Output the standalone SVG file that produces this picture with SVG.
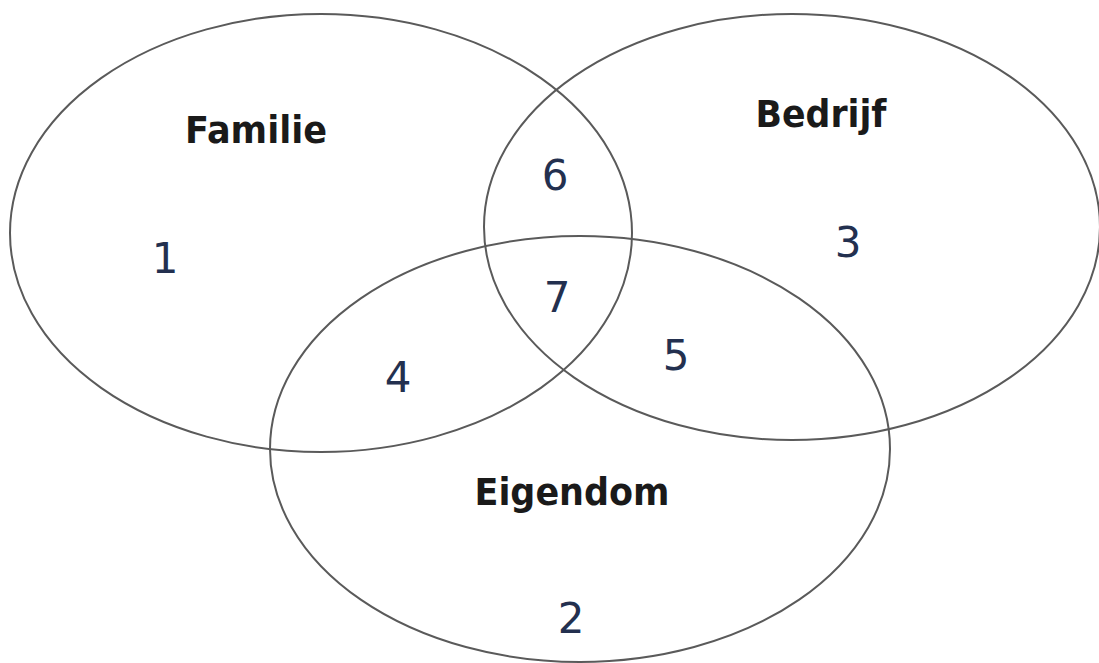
<svg xmlns="http://www.w3.org/2000/svg" width="1099" height="663" viewBox="0 0 1099 663">
<style>
.set{fill:none;stroke:#5a5a5a;stroke-width:2}
.lbl{font-family:"DejaVu Sans",sans-serif;font-weight:bold;font-size:37px;fill:#1a1a1a;text-anchor:middle}
.num{font-family:"DejaVu Sans",sans-serif;font-size:42px;fill:#23304f;text-anchor:middle}
</style>
<rect width="1099" height="663" fill="#ffffff"/>
<g id="familie">
<ellipse class="set" cx="321" cy="233" rx="311" ry="219"/>
<text class="lbl" x="256" y="143" textLength="142" lengthAdjust="spacingAndGlyphs">Familie</text>
</g>
<g id="bedrijf">
<ellipse class="set" cx="792" cy="227" rx="308" ry="213"/>
<text class="lbl" x="821" y="127" textLength="131" lengthAdjust="spacingAndGlyphs">Bedrijf</text>
</g>
<g id="eigendom">
<ellipse class="set" cx="580" cy="449" rx="310" ry="213"/>
<text class="lbl" x="572" y="505" textLength="195" lengthAdjust="spacingAndGlyphs">Eigendom</text>
</g>
<g id="regions">
<text class="num" x="165" y="273">1</text>
<text class="num" x="555" y="190">6</text>
<text class="num" x="557" y="312">7</text>
<text class="num" x="848" y="257">3</text>
<text class="num" x="398" y="392">4</text>
<text class="num" x="676" y="370">5</text>
<text class="num" x="571" y="633">2</text>
</g>
</svg>
